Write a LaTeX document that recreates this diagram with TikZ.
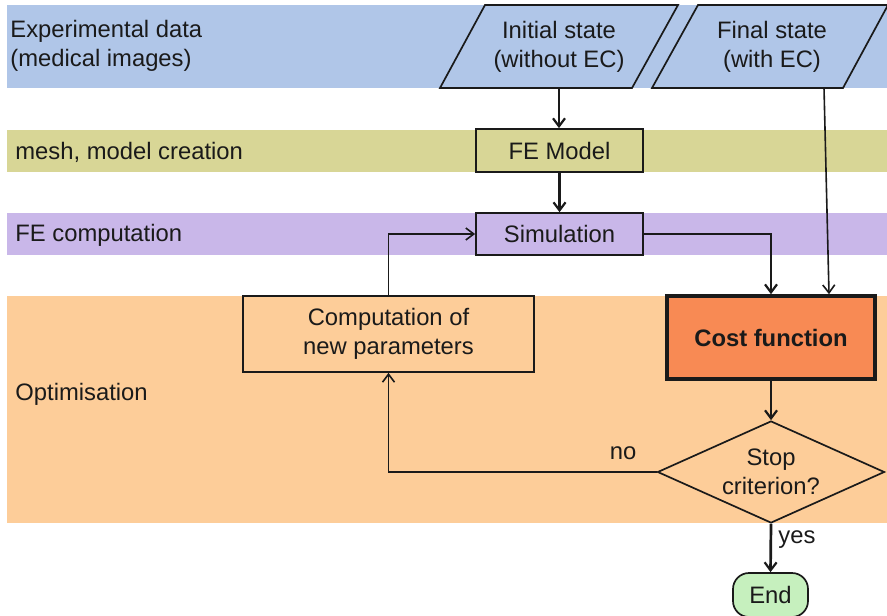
\documentclass[tikz,border=0pt]{standalone}
\usepackage{fontspec}
\setmainfont{Liberation Sans}
\usetikzlibrary{arrows.meta,shapes.geometric,calc}

\definecolor{bandblue}{RGB}{176,198,232}
\definecolor{bandolive}{RGB}{216,214,150}
\definecolor{bandpurple}{RGB}{201,183,233}
\definecolor{bandorange}{RGB}{253,205,153}
\definecolor{costfill}{RGB}{248,138,84}
\definecolor{endfill}{RGB}{198,240,190}
\definecolor{ink}{RGB}{26,26,26}

\tikzset{
  boxline/.style={draw=ink, line width=0.85pt},
  stepbox/.style={boxline, rectangle, inner sep=0pt, align=center},
  thickarrow/.style={draw=ink, line width=1.35pt, -{Straight Barb[length=4pt,width=6pt,line width=1.1pt]}},
  thinarrow/.style={draw=ink, line width=0.8pt, -{Straight Barb[length=4pt,width=6pt,line width=0.8pt]}},
  lanelabel/.style={anchor=west, inner sep=0pt, align=left},
}

\begin{document}
\begin{tikzpicture}[x=0.5pt, y=-0.5pt,
  font=\fontsize{11.9}{14.4}\selectfont, every node/.append style={text=ink}]
\useasboundingbox (0,0) rectangle (887,615);
\clip (0,0) rectangle (887,615);

% swim lanes
\fill[bandblue]   (7,5)   rectangle (887,88);
\fill[bandolive]  (7,130) rectangle (887,172);
\fill[bandpurple] (7,213) rectangle (887,255);
\fill[bandorange] (7,296) rectangle (887,523);

% lane labels
\node[lanelabel] (lab1) at (10,46)  {Experimental data\\(medical images)};
\node[lanelabel] (lab2) at (15,152) {mesh, model creation};
\node[lanelabel] (lab3) at (15,235) {FE computation};
\node[lanelabel] (lab4) at (15,394) {Optimisation};

% input data (parallelograms)
\draw[boxline, fill=bandblue] (485,5) -- (678,5) -- (632,88) -- (440,88) -- cycle;
\node[align=center, inner sep=0pt, minimum width=96pt, minimum height=41.5pt] (init) at (559,47) {Initial state\\(without EC)};
\draw[boxline, fill=bandblue] (698,5) -- (888,5) -- (843,88) -- (652,88) -- cycle;
\node[align=center, inner sep=0pt, minimum height=41.5pt] (fin) at (772,47) {Final state\\(with EC)};

% process boxes
\node[stepbox, fill=bandolive,  minimum width=83.5pt, minimum height=21.5pt] (fem) at (559.5,150.5) {FE Model};
\node[stepbox, fill=bandpurple, minimum width=83.5pt, minimum height=21pt]   (sim) at (559.5,234) {Simulation};
\node[stepbox, fill=bandorange, minimum width=145.5pt, minimum height=38pt]  (comp) at (388.5,334) {Computation of\\new parameters};
\node[stepbox, fill=costfill, line width=1.8pt, minimum width=104pt, minimum height=41.5pt, font=\fontsize{11.9}{14.4}\selectfont\bfseries] (cost) at (771,337.5) {Cost function};
\node[boxline, diamond, fill=bandorange, inner sep=0pt, aspect=2.2, minimum width=113.5pt, minimum height=51pt, align=center] (stop) at (771,472) {Stop\\criterion?};
\node[boxline, fill=endfill, rectangle, rounded corners=8pt, minimum width=37.5pt, minimum height=22pt, inner sep=0pt] (end) at (770.5,595) {End};

% connectors
\coordinate (fsrc) at (824,88);
\coordinate (fdst) at ($(cost.north)+(58,0)$);
\draw[thickarrow] (init.south) -- (init.south |- fem.north);
\draw[thickarrow] (fem.south) -- (sim.north);
\draw[thickarrow] (sim.east) -- (sim.east -| cost.north) -- (cost.north);
\draw[thinarrow] (fsrc) -- (fdst);
\draw[thinarrow] (comp.north) |- (sim.west);
\draw[thickarrow] (cost.south) -- (stop.north);
\draw[thinarrow, line width=0.9pt] (stop.west) -| (comp.south);
\draw[thickarrow] (stop.south) -- (end.north);

% branch labels
\node (no)  at (623,453) {no};
\node (yes) at (797,540) {yes};
\end{tikzpicture}
\end{document}
